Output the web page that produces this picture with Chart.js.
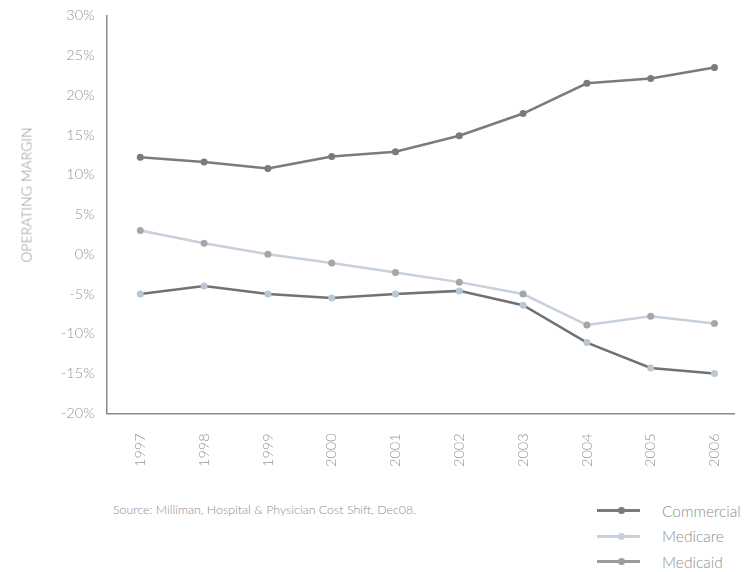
<!DOCTYPE html>
<html>
<head>
<meta charset="utf-8">
<script src="https://cdn.jsdelivr.net/npm/chart.js@4.4.1/dist/chart.umd.min.js"></script>
<style>
  html, body { margin: 0; padding: 0; background: #fff; }
  body { width: 744px; height: 572px; position: relative; overflow: hidden;
         font-family: "Lato", "Open Sans", sans-serif; font-weight: 300; color: #8e8e8e; }
  #wrap { position: absolute; left: 0; top: 0; width: 744px; height: 483px; }
  #ytitle { position: absolute; left: 26px; top: 195px; transform: translate(-50%, -50%) rotate(-90deg);
            font-size: 14px; white-space: nowrap; }
  #source { position: absolute; left: 113px; top: 502px; font-size: 12.4px; }
  #legend { position: absolute; left: 597px; top: 498px; }
  .row { height: 25.5px; display: flex; align-items: center; font-size: 15.5px; }
  .swatch { position: relative; width: 43px; height: 3px; margin-right: 22px; }
  .swatch i { position: absolute; left: 21px; top: -2px; width: 7px; height: 7px; border-radius: 50%; }
</style>
</head>
<body>
<div id="wrap"><canvas id="chart"></canvas></div>
<div id="ytitle">OPERATING MARGIN</div>
<div id="source">Source: Milliman, Hospital &amp; Physician Cost Shift, Dec08.</div>
<div id="legend"></div>
<script>
const years = [1997, 1998, 1999, 2000, 2001, 2002, 2003, 2004, 2005, 2006];
const commercial = [12.2, 11.6, 10.8, 12.3, 12.9, 14.9, 17.7, 21.5, 22.1, 23.5];
const medicare   = [3.0, 1.4, 0.0, -1.1, -2.3, -3.5, -5.0, -8.9, -7.8, -8.7];
const medicaid   = [-5.0, -4.0, -5.0, -5.5, -5.0, -4.6, -6.4, -11.1, -14.3, -15.0];
const yTicks = [-20, -15, -10, -5, 0, 5, 10, 15, 20, 25, 30];

const TICK_FONT = { family: "Lato", size: 14.5, weight: "300" };

const series = [
  { label: "Commercial", data: commercial, line: "#7b7b7b", point: "#7b7b7b", key: "#7b7b7b" },
  { label: "Medicare",   data: medicare,   line: "#c6d1dc", point: "#a4a7aa", key: "#c6d1dc" },
  { label: "Medicaid",   data: medicaid,   line: "#727272", point: "#b9c6d3", key: "#9c9c9c" },
];

new Chart(document.getElementById("chart"), {
  type: "line",
  data: {
    datasets: series.map((s) => ({
      label: s.label,
      data: s.data.map((v, i) => ({ x: years[i], y: v })),
      borderColor: s.line,
      backgroundColor: s.point,
      pointBackgroundColor: s.point,
      pointBorderWidth: 0,
      pointRadius: 3.5,
      borderWidth: 2.5,
      tension: 0,
    })),
  },
  options: {
    responsive: true,
    maintainAspectRatio: false,
    animation: false,
    layout: { padding: { left: 54, top: 1, right: 0, bottom: 4 } },
    plugins: { legend: { display: false }, tooltip: { enabled: false } },
    scales: {
      x: {
        type: "linear",
        min: 1996.47,
        max: 2006.312,
        afterBuildTicks: (axis) => { axis.ticks = years.map((v) => ({ value: v })); },
        ticks: { color: "#939393", font: TICK_FONT, minRotation: 90, maxRotation: 90, padding: 12,
                  callback: (v) => String(v) },
        grid: { display: false },
        border: { color: "#8a8a8a", width: 1.5 },
      },
      y: {
        min: -20,
        max: 30,
        afterBuildTicks: (axis) => { axis.ticks = yTicks.map((v) => ({ value: v })); },
        ticks: { color: "#939393", font: TICK_FONT, padding: 7, callback: (v) => v + "%" },
        // invisible tick marks keep the label gap without pushing the top down
        grid: { display: true, drawOnChartArea: false, drawTicks: true, tickLength: 5, color: "rgba(0,0,0,0)" },
        border: { color: "#8a8a8a", width: 1.5 },
      },
    },
  },
});

// legend under the plot, line swatch with a dot in the middle
const legend = document.getElementById("legend");
series.forEach((s) => {
  const row = document.createElement("div");
  row.className = "row";
  row.innerHTML = '<span class="swatch" style="background:' + s.key + '"><i style="background:' + s.key +
    '"></i></span><span>' + s.label + "</span>";
  legend.appendChild(row);
});
</script>
</body>
</html>
